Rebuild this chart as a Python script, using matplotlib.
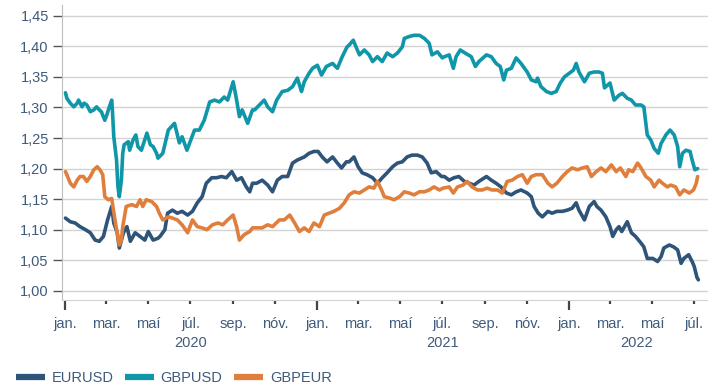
import matplotlib
matplotlib.use("Agg")
import matplotlib.pyplot as plt
import matplotlib.dates as mdates
import matplotlib.ticker as mticker
import matplotlib.transforms as mtransforms
import pandas as pd

# Gengi: EURUSD, GBPUSD, GBPEUR (jan. 2020 - júl. 2022)
eurusd_dates = [
    "2020-01-02", "2020-01-09", "2020-01-16", "2020-01-23", "2020-01-31", "2020-02-07", "2020-02-14",
    "2020-02-20", "2020-02-26", "2020-03-03", "2020-03-09", "2020-03-12", "2020-03-17", "2020-03-20",
    "2020-03-26", "2020-03-31", "2020-04-05", "2020-04-12", "2020-04-19", "2020-04-26", "2020-05-01",
    "2020-05-08", "2020-05-15", "2020-05-18", "2020-05-25", "2020-05-29", "2020-06-05", "2020-06-12",
    "2020-06-19", "2020-06-27", "2020-07-04", "2020-07-11", "2020-07-18", "2020-07-24", "2020-08-01",
    "2020-08-08", "2020-08-15", "2020-08-22", "2020-08-30", "2020-09-06", "2020-09-13", "2020-09-20",
    "2020-09-25", "2020-09-29", "2020-10-05", "2020-10-13", "2020-10-21", "2020-10-28", "2020-11-04",
    "2020-11-11", "2020-11-19", "2020-11-26", "2020-12-03", "2020-12-13", "2020-12-20", "2020-12-27",
    "2021-01-02", "2021-01-08", "2021-01-15", "2021-01-23", "2021-01-30", "2021-02-05", "2021-02-12",
    "2021-02-16", "2021-02-23", "2021-03-01", "2021-03-07", "2021-03-14", "2021-03-22", "2021-03-29",
    "2021-04-05", "2021-04-12", "2021-04-20", "2021-04-27", "2021-05-04", "2021-05-11", "2021-05-18",
    "2021-05-26", "2021-06-02", "2021-06-09", "2021-06-15", "2021-06-22", "2021-06-30", "2021-07-04",
    "2021-07-11", "2021-07-18", "2021-07-25", "2021-08-02", "2021-08-09", "2021-08-16", "2021-08-23",
    "2021-09-03", "2021-09-10", "2021-09-17", "2021-09-24", "2021-10-02", "2021-10-09", "2021-10-16",
    "2021-10-23", "2021-11-01", "2021-11-07", "2021-11-11", "2021-11-17", "2021-11-23", "2021-12-01",
    "2021-12-07", "2021-12-14", "2021-12-22", "2021-12-29", "2022-01-05", "2022-01-11", "2022-01-15",
    "2022-01-23", "2022-01-30", "2022-02-06", "2022-02-10", "2022-02-16", "2022-02-23", "2022-03-01",
    "2022-03-05", "2022-03-10", "2022-03-14", "2022-03-18", "2022-03-26", "2022-04-01", "2022-04-07",
    "2022-04-15", "2022-04-19", "2022-04-24", "2022-05-02", "2022-05-09", "2022-05-14", "2022-05-18",
    "2022-05-26", "2022-06-01", "2022-06-07", "2022-06-12", "2022-06-16", "2022-06-23", "2022-06-28",
    "2022-07-01", "2022-07-05", "2022-07-07",
]
eurusd = [
    1.119, 1.113, 1.111, 1.105, 1.100, 1.095, 1.083, 1.081, 1.089, 1.116, 1.138, 1.111, 1.095, 1.070,
    1.095, 1.105, 1.081, 1.095, 1.089, 1.083, 1.097, 1.083, 1.086, 1.089, 1.100, 1.127, 1.132, 1.127,
    1.130, 1.124, 1.130, 1.144, 1.154, 1.176, 1.185, 1.185, 1.187, 1.185, 1.195, 1.181, 1.185, 1.170,
    1.162, 1.176, 1.176, 1.181, 1.173, 1.162, 1.181, 1.187, 1.187, 1.209, 1.214, 1.219, 1.225, 1.228,
    1.228, 1.219, 1.211, 1.219, 1.209, 1.201, 1.211, 1.211, 1.219, 1.203, 1.193, 1.190, 1.185, 1.176,
    1.185, 1.193, 1.203, 1.209, 1.211, 1.219, 1.222, 1.222, 1.219, 1.209, 1.193, 1.195, 1.187, 1.187,
    1.181, 1.185, 1.187, 1.179, 1.176, 1.173, 1.179, 1.187, 1.181, 1.176, 1.170, 1.160, 1.157, 1.162,
    1.165, 1.160, 1.154, 1.138, 1.127, 1.121, 1.130, 1.127, 1.130, 1.130, 1.132, 1.135, 1.144, 1.132,
    1.116, 1.138, 1.146, 1.138, 1.132, 1.121, 1.105, 1.089, 1.100, 1.105, 1.097, 1.113, 1.095, 1.089,
    1.078, 1.072, 1.053, 1.053, 1.048, 1.056, 1.070, 1.075, 1.072, 1.067, 1.045, 1.053, 1.059, 1.048,
    1.040, 1.022, 1.018,
]

gbpusd_dates = [
    "2020-01-02", "2020-01-04", "2020-01-09", "2020-01-14", "2020-01-19", "2020-01-21", "2020-01-26",
    "2020-01-29", "2020-02-02", "2020-02-07", "2020-02-12", "2020-02-16", "2020-02-20", "2020-02-23",
    "2020-02-28", "2020-03-02", "2020-03-05", "2020-03-09", "2020-03-10", "2020-03-12", "2020-03-16",
    "2020-03-18", "2020-03-20", "2020-03-23", "2020-03-25", "2020-03-27", "2020-04-02", "2020-04-04",
    "2020-04-09", "2020-04-13", "2020-04-16", "2020-04-21", "2020-04-25", "2020-04-29", "2020-05-04",
    "2020-05-08", "2020-05-13", "2020-05-15", "2020-05-22", "2020-05-30", "2020-06-08", "2020-06-15",
    "2020-06-19", "2020-06-26", "2020-07-07", "2020-07-14", "2020-07-21", "2020-07-29", "2020-08-05",
    "2020-08-12", "2020-08-19", "2020-08-24", "2020-09-01", "2020-09-06", "2020-09-10", "2020-09-14",
    "2020-09-22", "2020-09-29", "2020-10-02", "2020-10-09", "2020-10-16", "2020-10-21", "2020-10-28",
    "2020-11-03", "2020-11-11", "2020-11-19", "2020-11-26", "2020-12-03", "2020-12-09", "2020-12-13",
    "2020-12-20", "2020-12-25", "2021-01-01", "2021-01-07", "2021-01-14", "2021-01-23", "2021-01-30",
    "2021-02-06", "2021-02-13", "2021-02-16", "2021-02-22", "2021-02-26", "2021-03-03", "2021-03-10",
    "2021-03-17", "2021-03-22", "2021-03-29", "2021-04-05", "2021-04-12", "2021-04-20", "2021-04-27",
    "2021-05-04", "2021-05-07", "2021-05-14", "2021-05-21", "2021-05-29", "2021-06-05", "2021-06-12",
    "2021-06-16", "2021-06-24", "2021-07-01", "2021-07-04", "2021-07-11", "2021-07-17", "2021-07-21",
    "2021-07-27", "2021-08-03", "2021-08-12", "2021-08-18", "2021-08-23", "2021-09-03", "2021-09-10",
    "2021-09-17", "2021-09-23", "2021-09-28", "2021-10-02", "2021-10-09", "2021-10-16", "2021-10-23",
    "2021-11-01", "2021-11-07", "2021-11-14", "2021-11-16", "2021-11-21", "2021-11-29", "2021-12-06",
    "2021-12-13", "2021-12-19", "2021-12-25", "2022-01-01", "2022-01-07", "2022-01-11", "2022-01-15",
    "2022-01-23", "2022-01-30", "2022-02-06", "2022-02-13", "2022-02-18", "2022-02-21", "2022-03-01",
    "2022-03-07", "2022-03-14", "2022-03-19", "2022-03-26", "2022-04-01", "2022-04-07", "2022-04-15",
    "2022-04-19", "2022-04-24", "2022-04-29", "2022-05-04", "2022-05-10", "2022-05-14", "2022-05-21",
    "2022-05-27", "2022-06-02", "2022-06-07", "2022-06-10", "2022-06-14", "2022-06-19", "2022-06-25",
    "2022-06-28", "2022-07-02", "2022-07-06",
]
gbpusd = [
    1.324, 1.315, 1.307, 1.301, 1.307, 1.312, 1.301, 1.307, 1.304, 1.293, 1.296, 1.301, 1.296, 1.293,
    1.279, 1.288, 1.299, 1.312, 1.296, 1.252, 1.214, 1.170, 1.154, 1.181, 1.225, 1.239, 1.244, 1.230,
    1.247, 1.255, 1.236, 1.230, 1.244, 1.258, 1.239, 1.236, 1.225, 1.217, 1.225, 1.263, 1.274, 1.242,
    1.252, 1.230, 1.263, 1.263, 1.279, 1.309, 1.312, 1.309, 1.317, 1.312, 1.342, 1.312, 1.285, 1.296,
    1.274, 1.296, 1.296, 1.304, 1.312, 1.301, 1.293, 1.312, 1.326, 1.328, 1.334, 1.348, 1.326, 1.342,
    1.356, 1.364, 1.369, 1.353, 1.367, 1.372, 1.364, 1.383, 1.399, 1.402, 1.410, 1.399, 1.386, 1.394,
    1.386, 1.375, 1.383, 1.375, 1.389, 1.383, 1.389, 1.399, 1.413, 1.416, 1.418, 1.418, 1.413, 1.405,
    1.386, 1.391, 1.381, 1.383, 1.386, 1.364, 1.383, 1.394, 1.389, 1.383, 1.367, 1.375, 1.386, 1.383,
    1.372, 1.367, 1.345, 1.361, 1.364, 1.381, 1.372, 1.358, 1.345, 1.342, 1.348, 1.334, 1.326, 1.323,
    1.326, 1.340, 1.350, 1.356, 1.361, 1.372, 1.358, 1.342, 1.356, 1.358, 1.358, 1.356, 1.332, 1.340,
    1.312, 1.320, 1.323, 1.315, 1.312, 1.304, 1.304, 1.301, 1.255, 1.247, 1.233, 1.225, 1.241, 1.255,
    1.263, 1.255, 1.236, 1.203, 1.225, 1.230, 1.228, 1.214, 1.198, 1.200,
]

gbpeur_dates = [
    "2020-01-02", "2020-01-04", "2020-01-09", "2020-01-14", "2020-01-19", "2020-01-23", "2020-01-28",
    "2020-02-02", "2020-02-07", "2020-02-12", "2020-02-17", "2020-02-21", "2020-02-25", "2020-02-28",
    "2020-03-04", "2020-03-09", "2020-03-13", "2020-03-17", "2020-03-20", "2020-03-23", "2020-03-25",
    "2020-03-30", "2020-04-07", "2020-04-14", "2020-04-19", "2020-04-23", "2020-04-28", "2020-05-06",
    "2020-05-13", "2020-05-17", "2020-05-22", "2020-05-30", "2020-06-05", "2020-06-12", "2020-06-19",
    "2020-06-27", "2020-07-04", "2020-07-11", "2020-07-18", "2020-07-25", "2020-08-02", "2020-08-10",
    "2020-08-17", "2020-08-24", "2020-09-01", "2020-09-06", "2020-09-10", "2020-09-17", "2020-09-25",
    "2020-09-29", "2020-10-05", "2020-10-13", "2020-10-21", "2020-10-28", "2020-11-07", "2020-11-14",
    "2020-11-22", "2020-11-29", "2020-12-06", "2020-12-13", "2020-12-20", "2020-12-27", "2021-01-04",
    "2021-01-11", "2021-01-18", "2021-01-25", "2021-02-02", "2021-02-09", "2021-02-16", "2021-02-23",
    "2021-03-03", "2021-03-10", "2021-03-17", "2021-03-24", "2021-03-29", "2021-04-04", "2021-04-08",
    "2021-04-15", "2021-04-22", "2021-04-30", "2021-05-07", "2021-05-14", "2021-05-21", "2021-05-29",
    "2021-06-05", "2021-06-12", "2021-06-19", "2021-06-27", "2021-07-02", "2021-07-11", "2021-07-17",
    "2021-07-23", "2021-07-31", "2021-08-06", "2021-08-13", "2021-08-21", "2021-08-28", "2021-09-04",
    "2021-09-11", "2021-09-19", "2021-09-26", "2021-10-03", "2021-10-10", "2021-10-18", "2021-10-25",
    "2021-11-01", "2021-11-07", "2021-11-14", "2021-11-23", "2021-12-01", "2021-12-07", "2021-12-14",
    "2021-12-22", "2021-12-29", "2022-01-05", "2022-01-13", "2022-01-20", "2022-01-27", "2022-02-02",
    "2022-02-09", "2022-02-16", "2022-02-23", "2022-03-03", "2022-03-10", "2022-03-16", "2022-03-24",
    "2022-03-28", "2022-04-03", "2022-04-10", "2022-04-15", "2022-04-22", "2022-04-29", "2022-05-04",
    "2022-05-11", "2022-05-16", "2022-05-23", "2022-05-28", "2022-06-04", "2022-06-10", "2022-06-16",
    "2022-06-24", "2022-06-30", "2022-07-04", "2022-07-06",
]
gbpeur = [
    1.195, 1.190, 1.176, 1.170, 1.181, 1.187, 1.187, 1.179, 1.187, 1.198, 1.203, 1.198, 1.190, 1.154,
    1.149, 1.151, 1.121, 1.094, 1.075, 1.083, 1.105, 1.138, 1.141, 1.138, 1.149, 1.138, 1.149, 1.146,
    1.138, 1.127, 1.116, 1.121, 1.119, 1.116, 1.108, 1.095, 1.116, 1.105, 1.103, 1.100, 1.108, 1.111,
    1.108, 1.116, 1.124, 1.105, 1.083, 1.092, 1.097, 1.103, 1.103, 1.103, 1.108, 1.105, 1.116, 1.116,
    1.124, 1.111, 1.097, 1.103, 1.097, 1.111, 1.105, 1.124, 1.127, 1.130, 1.135, 1.144, 1.157, 1.162,
    1.160, 1.165, 1.170, 1.168, 1.179, 1.165, 1.154, 1.152, 1.149, 1.154, 1.162, 1.160, 1.157, 1.162,
    1.162, 1.165, 1.170, 1.165, 1.168, 1.170, 1.160, 1.170, 1.173, 1.179, 1.170, 1.165, 1.165, 1.168,
    1.165, 1.165, 1.160, 1.179, 1.181, 1.187, 1.190, 1.176, 1.187, 1.190, 1.190, 1.176, 1.170, 1.176,
    1.187, 1.195, 1.201, 1.198, 1.201, 1.203, 1.187, 1.195, 1.201, 1.195, 1.206, 1.195, 1.201, 1.187,
    1.198, 1.195, 1.209, 1.201, 1.187, 1.181, 1.170, 1.181, 1.176, 1.170, 1.173, 1.170, 1.157, 1.165,
    1.160, 1.165, 1.176, 1.187,
]

series = [
    ("EURUSD", eurusd_dates, eurusd, "#2f5479"),
    ("GBPUSD", gbpusd_dates, gbpusd, "#0f97a9"),
    ("GBPEUR", gbpeur_dates, gbpeur, "#e07f3c"),
]

month_names = {1: "jan.", 3: "mar.", 5: "maí", 7: "júl.", 9: "sep.", 11: "nóv."}
year_label_dates = {"2020": "2020-07-01", "2021": "2021-07-01", "2022": "2022-04-08"}

text_color = "#3f5b7c"
font_size = 10.5
plt.rcParams["font.family"] = ["Liberation Sans", "DejaVu Sans"]

fig = plt.figure(figsize=(7.08, 3.88), dpi=100)
ax = fig.add_axes([0.0876, 0.2268, 1 - 0.0876, 0.987 - 0.2268])

for name, dates, values, color in series:
    ax.plot(pd.to_datetime(dates), values, color=color, lw=2.6, label=name,
            solid_joinstyle="round", solid_capstyle="round")

ax.set_ylim(0.985, 1.4675)
ax.set_xlim(pd.Timestamp("2019-12-28"), pd.Timestamp("2022-07-21"))

ax.yaxis.set_major_locator(mticker.MultipleLocator(0.05))
ax.yaxis.set_major_formatter(mticker.FuncFormatter(lambda v, p: f"{v:.2f}".replace(".", ",")))
ax.grid(axis="y", color="#d3d3d3", lw=1.0)
ax.set_axisbelow(True)

ax.xaxis.set_major_locator(mdates.MonthLocator(bymonth=[1]))
ax.xaxis.set_minor_locator(mdates.MonthLocator(bymonth=[3, 5, 7, 9, 11]))
month_fmt = mticker.FuncFormatter(lambda v, p: month_names.get(mdates.num2date(v).month, ""))
ax.xaxis.set_major_formatter(month_fmt)
ax.xaxis.set_minor_formatter(month_fmt)

ax.tick_params(axis="y", length=6.5, width=1, color="#555555", labelcolor=text_color,
               labelsize=font_size, pad=3)
ax.tick_params(axis="x", which="major", length=7.2, width=1.6, color="#444444",
               labelcolor=text_color, labelsize=font_size, pad=5.2)
ax.tick_params(axis="x", which="minor", length=2.8, width=1.6, color="#444444",
               labelcolor=text_color, labelsize=font_size, pad=9.6)

for side in ["top", "right"]:
    ax.spines[side].set_visible(False)
ax.spines["left"].set_color("#bdbdbd")
ax.spines["bottom"].set_color("#d3d3d3")

# year labels under the month labels
trans = mtransforms.blended_transform_factory(ax.transData, fig.transFigure)
for year, when in year_label_dates.items():
    ax.text(pd.Timestamp(when), 1 - 343 / 388, year, transform=trans, ha="center",
            va="center", color=text_color, fontsize=font_size)

handles, labels = ax.get_legend_handles_labels()
leg = fig.legend(handles, labels, loc="center left", bbox_to_anchor=(0.022, 1 - 378 / 388),
                 ncol=3, frameon=False, fontsize=font_size, handlelength=2.0, handletextpad=0.45,
                 columnspacing=0.8, labelcolor=text_color, borderaxespad=0, borderpad=0)
for line in leg.get_lines():
    line.set_linewidth(4.5)
    line.set_solid_capstyle("butt")

fig.savefig("out.png", dpi=100)
